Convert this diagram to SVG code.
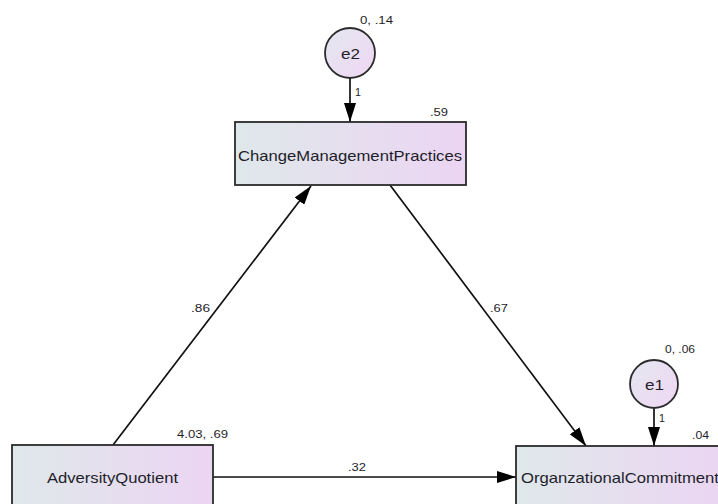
<svg xmlns="http://www.w3.org/2000/svg" width="718" height="504" viewBox="0 0 718 504">
<style>
.box{stroke:#2b2b2b;stroke-width:1.8;fill:url(#g)}
.circ{stroke:#2b2b2b;stroke-width:1.8;fill:url(#gc)}
.lbl{font-family:"Liberation Sans",Arial,sans-serif;font-size:14.5px;fill:#1e1e2a}
.sm{font-family:"Liberation Sans",Arial,sans-serif;font-size:11.5px;fill:#1e1e2a}
.edge{stroke:#111;stroke-width:1.7;fill:none;marker-end:url(#ah)}
</style>
<defs>
<linearGradient id="g" x1="0" y1="0" x2="1" y2="0">
<stop offset="0" stop-color="#dfe8ea"/>
<stop offset="1" stop-color="#ecd5f3"/>
</linearGradient>
<linearGradient id="gc" x1="0" y1="0" x2="1" y2="1">
<stop offset="0" stop-color="#e4e8f0"/>
<stop offset="1" stop-color="#efd6f3"/>
</linearGradient>
<marker id="ah" viewBox="0 0 19 12" refX="19" refY="6" markerWidth="19" markerHeight="12" markerUnits="userSpaceOnUse" orient="auto">
<path d="M0,0 L19,6 L0,12 Z" fill="#000"/>
</marker>
</defs>
<rect width="718" height="504" fill="#fff"/>
<g id="connectors">
<line class="edge" x1="350" y1="78" x2="350" y2="122"/>
<line class="edge" x1="654" y1="408" x2="654" y2="446"/>
<line class="edge" x1="113" y1="445" x2="311" y2="186"/>
<line class="edge" x1="390" y1="185" x2="586" y2="446"/>
<line class="edge" x1="213" y1="477" x2="516" y2="477"/>
<text class="sm" x="355" y="96" textLength="6" lengthAdjust="spacingAndGlyphs">1</text>
<text class="sm" x="659" y="422" textLength="6" lengthAdjust="spacingAndGlyphs">1</text>
<text class="sm" x="191" y="312" textLength="19" lengthAdjust="spacingAndGlyphs">.86</text>
<text class="sm" x="490" y="312" textLength="18" lengthAdjust="spacingAndGlyphs">.67</text>
<text class="sm" x="348" y="471" textLength="18" lengthAdjust="spacingAndGlyphs">.32</text>
</g>
<g id="e2">
<circle class="circ" cx="350" cy="53" r="25"/>
<text class="lbl" x="341" y="59" textLength="19" lengthAdjust="spacingAndGlyphs">e2</text>
<text class="sm" x="360" y="24" textLength="33" lengthAdjust="spacingAndGlyphs">0, .14</text>
</g>
<g id="ChangeManagementPractices">
<rect class="box" x="235" y="122" width="231" height="63"/>
<text class="lbl" x="238" y="161" textLength="224" lengthAdjust="spacingAndGlyphs">ChangeManagementPractices</text>
<text class="sm" x="430" y="116" textLength="18" lengthAdjust="spacingAndGlyphs">.59</text>
</g>
<g id="AdversityQuotient">
<rect class="box" x="12" y="445" width="201" height="63"/>
<text class="lbl" x="47" y="483" textLength="131" lengthAdjust="spacingAndGlyphs">AdversityQuotient</text>
<text class="sm" x="177" y="438" textLength="51" lengthAdjust="spacingAndGlyphs">4.03, .69</text>
</g>
<g id="e1">
<circle class="circ" cx="654" cy="384" r="24"/>
<text class="lbl" x="645" y="390" textLength="19" lengthAdjust="spacingAndGlyphs">e1</text>
<text class="sm" x="665" y="353" textLength="30" lengthAdjust="spacingAndGlyphs">0, .06</text>
</g>
<g id="OrganzationalCommitment">
<rect class="box" x="516" y="446" width="212" height="63"/>
<text class="lbl" x="521" y="483" textLength="198" lengthAdjust="spacingAndGlyphs">OrganzationalCommitment</text>
<text class="sm" x="692" y="439" textLength="17" lengthAdjust="spacingAndGlyphs">.04</text>
</g>
</svg>
